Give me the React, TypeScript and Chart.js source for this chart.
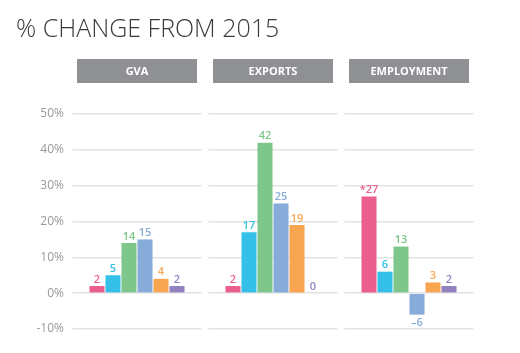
import React, { useEffect, useRef } from "react";
import { Chart, registerables } from "chart.js";

Chart.register(...registerables);

const title = "% CHANGE FROM 2015";
const categories = ["GVA", "EXPORTS", "EMPLOYMENT"];
const gva = [2, 5, 14, 15, 4, 2];
const exportsVals = [2, 17, 42, 25, 19, 0];
const employment = [27, 6, 13, -6, 3, 2];
const employmentNotes = ["*", "", "", "", "", ""];
const seriesColors = ["#ea5f8e", "#35c1e7", "#7fc68b", "#88acd9", "#f8a552", "#9182bf"];
const yMin = -10;
const yMax = 50;
const yStep = 10;

const panelGapPlugin = {
  id: "panelGaps",
  beforeDatasetsDraw(chart: any) {
    const { ctx, chartArea } = chart;
    const n = categories.length;
    const w = (chartArea.right - chartArea.left) / n;
    ctx.save();
    ctx.fillStyle = "#ffffff";
    for (let i = 0; i <= n; i++) {
      const b = chartArea.left + i * w;
      ctx.fillRect(b - 3.5, chartArea.top - 3, 7, chartArea.bottom - chartArea.top + 6);
    }
    ctx.restore();
  },
};

const headerPlugin = {
  id: "headers",
  afterDraw(chart: any) {
    const { ctx, scales } = chart;
    const x = scales.x;
    ctx.save();
    ctx.textAlign = "left";
    ctx.textBaseline = "alphabetic";
    ctx.fillStyle = "#3a3a3a";
    ctx.font = "300 25px 'Open Sans'";
    ctx.fillText(title, 16, 37);
    categories.forEach((c, i) => {
      const cx = x.getPixelForValue(i);
      ctx.fillStyle = "#8e9093";
      ctx.fillRect(cx - 60, 59, 120, 24);
      ctx.fillStyle = "#ffffff";
      ctx.font = "bold 11px 'Open Sans'";
      ctx.textAlign = "center";
      ctx.textBaseline = "middle";
      ctx.fillText(c, cx, 71.5);
    });
    ctx.restore();
  },
};

const valueLabelPlugin = {
  id: "valueLabels",
  afterDatasetsDraw(chart: any) {
    const { ctx } = chart;
    ctx.save();
    ctx.font = "600 11px 'Open Sans'";
    ctx.textAlign = "center";
    chart.data.datasets.forEach((ds: any, di: number) => {
      const meta = chart.getDatasetMeta(di);
      meta.data.forEach((el: any, ci: number) => {
        const v = ds.data[ci];
        const note = ci === 2 ? employmentNotes[di] : "";
        const txt = note + String(v).replace("-", "\u2013");
        ctx.fillStyle = seriesColors[di];
        if (v >= 0) {
          ctx.textBaseline = "bottom";
          ctx.fillText(txt, el.x, el.y - 1);
        } else {
          ctx.textBaseline = "top";
          ctx.fillText(txt, el.x, el.y + 3);
        }
      });
    });
    ctx.restore();
  },
};

export default function App() {
  const ref = useRef<HTMLCanvasElement | null>(null);
  useEffect(() => {
    if (!ref.current) return;
    const byCategory = [gva, exportsVals, employment];
    const datasets = seriesColors.map((color, si) => ({
      data: byCategory.map((arr) => arr[si]),
      backgroundColor: color,
      borderWidth: 0,
      categoryPercentage: 0.706,
      barPercentage: 0.94,
    }));
    const chart = new Chart(ref.current, {
      type: "bar",
      data: { labels: categories, datasets },
      options: {
        animation: false,
        responsive: false,
        maintainAspectRatio: false,
        layout: { padding: { top: 114, bottom: 24, left: 0, right: 43 } },
        plugins: { legend: { display: false }, tooltip: { enabled: false }, title: { display: false } },
        scales: {
          x: { display: false },
          y: {
            min: yMin,
            max: yMax,
            afterFit(scale: any) {
              scale.width = 69;
            },
            ticks: {
              stepSize: yStep,
              padding: 5,
              color: "#9a9a9a",
              font: { family: "'Open Sans'", size: 12 },
              callback: (v: any) => v + "%",
            },
            grid: { color: "#e2e2e2", lineWidth: 1.5, drawTicks: false },
            border: { display: false },
          },
        },
      },
      plugins: [panelGapPlugin, valueLabelPlugin, headerPlugin],
    });
    return () => chart.destroy();
  }, []);
  return (
    <div style={{ position: "fixed", left: 0, top: 0, width: 520, height: 353, background: "#fff" }}>
      <canvas ref={ref} width={520} height={353} style={{ width: 520, height: 353 }} />
    </div>
  );
}
